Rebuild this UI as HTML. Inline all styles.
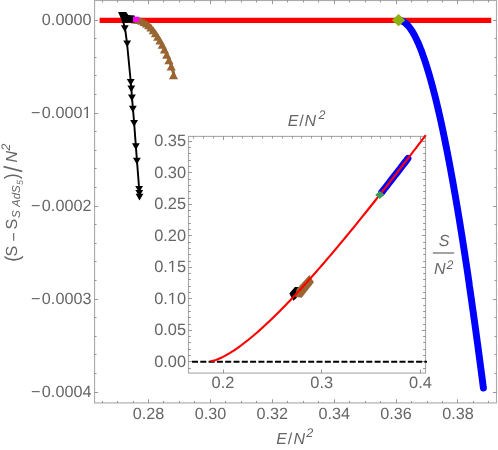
<!DOCTYPE html><html><head><meta charset="utf-8"><title>plot</title>
<style>html,body{margin:0;padding:0;background:#fff}svg{display:block;will-change:transform}text{font-family:"Liberation Sans",sans-serif;fill:#666666;text-rendering:geometricPrecision}</style>
</head><body>
<svg width="498" height="450" viewBox="0 0 498 450">
<rect width="498" height="450" fill="#fff"/>
<rect x="94.55" y="0.50" width="401.95" height="402.40" stroke="#ababab" stroke-width="1.15" fill="none"/>
<g stroke="#777777" stroke-width="0.75" fill="none">
<path d="M102.50 402.90v-2.00M102.50 0.50v2.00"/>
<path d="M117.50 402.90v-2.00M117.50 0.50v2.00"/>
<path d="M133.50 402.90v-2.00M133.50 0.50v2.00"/>
<path d="M148.50 402.90v-3.60M148.50 0.50v3.60"/>
<path d="M163.50 402.90v-2.00M163.50 0.50v2.00"/>
<path d="M179.50 402.90v-2.00M179.50 0.50v2.00"/>
<path d="M194.50 402.90v-2.00M194.50 0.50v2.00"/>
<path d="M210.50 402.90v-3.60M210.50 0.50v3.60"/>
<path d="M225.50 402.90v-2.00M225.50 0.50v2.00"/>
<path d="M241.50 402.90v-2.00M241.50 0.50v2.00"/>
<path d="M256.50 402.90v-2.00M256.50 0.50v2.00"/>
<path d="M272.50 402.90v-3.60M272.50 0.50v3.60"/>
<path d="M287.50 402.90v-2.00M287.50 0.50v2.00"/>
<path d="M303.50 402.90v-2.00M303.50 0.50v2.00"/>
<path d="M318.50 402.90v-2.00M318.50 0.50v2.00"/>
<path d="M334.50 402.90v-3.60M334.50 0.50v3.60"/>
<path d="M349.50 402.90v-2.00M349.50 0.50v2.00"/>
<path d="M365.50 402.90v-2.00M365.50 0.50v2.00"/>
<path d="M380.50 402.90v-2.00M380.50 0.50v2.00"/>
<path d="M396.50 402.90v-3.60M396.50 0.50v3.60"/>
<path d="M411.50 402.90v-2.00M411.50 0.50v2.00"/>
<path d="M427.50 402.90v-2.00M427.50 0.50v2.00"/>
<path d="M442.50 402.90v-2.00M442.50 0.50v2.00"/>
<path d="M457.50 402.90v-3.60M457.50 0.50v3.60"/>
<path d="M473.50 402.90v-2.00M473.50 0.50v2.00"/>
<path d="M488.50 402.90v-2.00M488.50 0.50v2.00"/>
<path d="M94.55 20.50h3.60M496.50 20.50h-3.60"/>
<path d="M94.55 38.50h2.00M496.50 38.50h-2.00"/>
<path d="M94.55 57.50h2.00M496.50 57.50h-2.00"/>
<path d="M94.55 75.50h2.00M496.50 75.50h-2.00"/>
<path d="M94.55 94.50h2.00M496.50 94.50h-2.00"/>
<path d="M94.55 113.50h3.60M496.50 113.50h-3.60"/>
<path d="M94.55 131.50h2.00M496.50 131.50h-2.00"/>
<path d="M94.55 150.50h2.00M496.50 150.50h-2.00"/>
<path d="M94.55 168.50h2.00M496.50 168.50h-2.00"/>
<path d="M94.55 187.50h2.00M496.50 187.50h-2.00"/>
<path d="M94.55 206.50h3.60M496.50 206.50h-3.60"/>
<path d="M94.55 224.50h2.00M496.50 224.50h-2.00"/>
<path d="M94.55 243.50h2.00M496.50 243.50h-2.00"/>
<path d="M94.55 261.50h2.00M496.50 261.50h-2.00"/>
<path d="M94.55 280.50h2.00M496.50 280.50h-2.00"/>
<path d="M94.55 299.50h3.60M496.50 299.50h-3.60"/>
<path d="M94.55 317.50h2.00M496.50 317.50h-2.00"/>
<path d="M94.55 336.50h2.00M496.50 336.50h-2.00"/>
<path d="M94.55 354.50h2.00M496.50 354.50h-2.00"/>
<path d="M94.55 373.50h2.00M496.50 373.50h-2.00"/>
<path d="M94.55 392.50h3.60M496.50 392.50h-3.60"/>
</g>
<g font-size="16.2">
<text x="148.50" y="419" text-anchor="middle">0.28</text>
<text x="210.40" y="419" text-anchor="middle">0.30</text>
<text x="272.30" y="419" text-anchor="middle">0.32</text>
<text x="334.20" y="419" text-anchor="middle">0.34</text>
<text x="396.10" y="419" text-anchor="middle">0.36</text>
<text x="458.00" y="419" text-anchor="middle">0.38</text>
<text x="91.6" y="25.00" text-anchor="end" letter-spacing="0.05">0.0000</text>
<text x="91.6" y="117.95" text-anchor="end" letter-spacing="0.05">0.0001</text>
<text x="31" y="117.95">−</text>
<text x="91.6" y="210.90" text-anchor="end" letter-spacing="0.05">0.0002</text>
<text x="31" y="210.90">−</text>
<text x="91.6" y="303.85" text-anchor="end" letter-spacing="0.05">0.0003</text>
<text x="31" y="303.85">−</text>
<text x="91.6" y="396.80" text-anchor="end" letter-spacing="0.05">0.0004</text>
<text x="31" y="396.80">−</text>
</g>
<path d="M99.6 20.3H491.3" stroke="#ff0000" stroke-width="5.2" fill="none"/>
<path d="M398.6 20.3 L399.1 20.3 L399.6 20.4 L400.1 20.4 L400.6 20.5 L401.1 20.7 L401.6 20.9 L402.1 21.0 L402.6 21.3 L403.1 21.5 L403.6 21.8 L404.1 22.1 L404.6 22.5 L405.1 22.9 L405.6 23.3 L406.1 23.7 L406.6 24.2 L407.1 24.7 L407.6 25.2 L408.1 25.7 L408.6 26.3 L409.1 26.9 L409.6 27.6 L410.1 28.2 L410.6 28.9 L411.1 29.7 L411.6 30.4 L412.1 31.2 L412.6 32.0 L413.1 32.9 L413.6 33.7 L414.1 34.6 L414.6 35.5 L415.1 36.5 L415.6 37.5 L416.1 38.5 L416.6 39.5 L417.1 40.6 L417.6 41.7 L418.1 42.8 L418.6 43.9 L419.1 45.1 L419.6 46.3 L420.1 47.5 L420.6 48.8 L421.1 50.0 L421.6 51.3 L422.1 52.7 L422.5 54.0 L423.0 55.4 L423.5 56.8 L424.0 58.2 L424.5 59.7 L425.0 61.2 L425.5 62.7 L426.0 64.2 L426.5 65.8 L427.0 67.4 L427.5 69.0 L428.0 70.6 L428.5 72.3 L429.0 74.0 L429.5 75.7 L430.0 77.4 L430.5 79.2 L431.0 81.0 L431.5 82.8 L432.0 84.7 L432.5 86.5 L433.0 88.4 L433.5 90.3 L434.0 92.3 L434.5 94.2 L435.0 96.2 L435.5 98.2 L436.0 100.2 L436.5 102.3 L437.0 104.4 L437.5 106.5 L438.0 108.6 L438.5 110.7 L439.0 112.9 L439.5 115.1 L440.0 117.3 L440.5 119.6 L441.0 121.8 L441.5 124.1 L442.0 126.4 L442.5 128.8 L443.0 131.1 L443.5 133.5 L444.0 135.9 L444.5 138.3 L445.0 140.8 L445.5 143.2 L446.0 145.7 L446.5 148.2 L447.0 150.8 L447.5 153.3 L448.0 155.9 L448.5 158.5 L449.0 161.1 L449.5 163.8 L450.0 166.4 L450.5 169.1 L451.0 171.8 L451.5 174.5 L452.0 177.3 L452.5 180.0 L453.0 182.8 L453.5 185.6 L454.0 188.5 L454.5 191.3 L455.0 194.2 L455.5 197.1 L456.0 200.0 L456.5 202.9 L457.0 205.8 L457.5 208.8 L458.0 211.8 L458.5 214.8 L459.0 217.8 L459.5 220.9 L460.0 223.9 L460.5 227.0 L461.0 230.1 L461.5 233.2 L462.0 236.4 L462.5 239.5 L463.0 242.7 L463.5 245.9 L464.0 249.1 L464.5 252.4 L465.0 255.6 L465.5 258.9 L466.0 262.2 L466.5 265.5 L467.0 268.8 L467.5 272.2 L468.0 275.5 L468.5 278.9 L469.0 282.3 L469.4 285.7 L469.9 289.1 L470.4 292.6 L470.9 296.1 L471.4 299.5 L471.9 303.0 L472.4 306.6 L472.9 310.1 L473.4 313.6 L473.9 317.2 L474.4 320.8 L474.9 324.4 L475.4 328.0 L475.9 331.6 L476.4 335.3 L476.9 339.0 L477.4 342.6 L477.9 346.3 L478.4 350.0 L478.9 353.8 L479.4 357.5 L479.9 361.3 L480.4 365.1 L480.9 368.8 L481.4 372.7 L481.9 376.5 L482.4 380.3 L482.9 384.2 L483.4 388.0" stroke="#0000ff" stroke-width="6.9" fill="none" stroke-linecap="round" stroke-linejoin="round"/>
<path d="M168.90 79.20L178.10 79.20L173.50 71.20ZM166.60 70.45L175.80 70.45L171.20 62.45ZM164.35 64.37L173.55 64.37L168.95 56.37ZM162.10 58.74L171.30 58.74L166.70 50.74ZM159.85 53.57L169.05 53.57L164.45 45.57ZM157.60 48.85L166.80 48.85L162.20 40.85ZM155.35 44.55L164.55 44.55L159.95 36.55ZM153.10 40.68L162.30 40.68L157.70 32.68ZM150.85 37.24L160.05 37.24L155.45 29.24ZM148.60 34.20L157.80 34.20L153.20 26.20ZM146.35 31.56L155.55 31.56L150.95 23.56ZM144.10 29.31L153.30 29.31L148.70 21.31ZM141.85 27.45L151.05 27.45L146.45 19.45ZM139.60 25.96L148.80 25.96L144.20 18.66ZM137.35 24.85L146.55 24.85L141.95 17.55ZM135.10 24.09L144.30 24.09L139.70 16.79ZM132.85 23.68L142.05 23.68L137.45 17.08ZM130.60 23.60L139.80 23.60L135.20 17.00Z" fill="#996633"/>
<path d="M174.2 75.9 L171.9 67.1 L169.7 61.1 L167.4 55.4 L165.2 50.3 L162.9 45.5 L160.7 41.3 L158.4 37.4 L156.2 33.9 L153.9 30.9 L151.7 28.3 L149.4 26.0 L147.2 24.1 L144.9 22.7 L142.7 21.5 L140.4 20.8 L138.2 20.4 L135.9 20.3" stroke="#996633" stroke-width="3.2" fill="none" stroke-linejoin="round"/>
<path d="M122.6 20.0 L125.0 28.0 L127.0 43.0 L130.7 81.2 L131.3 87.8 L131.9 96.8 L132.9 108.0 L134.1 122.3 L135.8 145.4 L136.9 159.9 L139.1 188.2 L139.3 192.0 L139.5 196.0" stroke="#000" stroke-width="1.9" fill="none" stroke-linejoin="round"/>
<path d="M120.90 25.20L128.70 25.20L124.80 31.90ZM123.25 40.60L131.05 40.60L127.15 47.30ZM126.80 79.00L134.60 79.00L130.70 85.70ZM127.40 85.60L135.20 85.60L131.30 92.30ZM128.00 94.60L135.80 94.60L131.90 101.30ZM128.95 105.80L136.75 105.80L132.85 112.50ZM130.20 120.10L138.00 120.10L134.10 126.80ZM131.95 143.20L139.75 143.20L135.85 149.90ZM132.95 157.70L140.75 157.70L136.85 164.40ZM135.20 186.00L143.00 186.00L139.10 192.70ZM135.40 189.90L143.20 189.90L139.30 196.60ZM135.60 193.70L143.40 193.70L139.50 200.40Z" fill="#000"/>
<path d="M118.1 12.1L126.2 12.1L128.3 15L134.8 15.4L134.8 22.6L122.8 23Z" fill="#000"/>
<rect x="133" y="16.7" width="5.9" height="5.3" fill="#ff00ff"/>
<path d="M391.9 20.3L398.55 13.9L405.25 20.3L398.55 26.35Z" fill="#8cb110"/>
<rect x="188.50" y="136.40" width="237.00" height="236.70" fill="#fff"/>
<rect x="188.50" y="136.40" width="237.00" height="236.70" stroke="#ababab" stroke-width="1.15" fill="none"/>
<g stroke="#777777" stroke-width="0.75" fill="none">
<path d="M193.50 136.40v2.20"/>
<path d="M203.50 136.40v2.20"/>
<path d="M213.50 136.40v2.20"/>
<path d="M223.50 136.40v3.60"/>
<path d="M223.50 373.10v-3.60"/>
<path d="M232.50 136.40v2.20"/>
<path d="M242.50 136.40v2.20"/>
<path d="M252.50 136.40v2.20"/>
<path d="M262.50 136.40v2.20"/>
<path d="M272.50 136.40v2.20"/>
<path d="M282.50 136.40v2.20"/>
<path d="M292.50 136.40v2.20"/>
<path d="M301.50 136.40v2.20"/>
<path d="M311.50 136.40v2.20"/>
<path d="M321.50 136.40v3.60"/>
<path d="M321.50 373.10v-3.60"/>
<path d="M331.50 136.40v2.20"/>
<path d="M341.50 136.40v2.20"/>
<path d="M351.50 136.40v2.20"/>
<path d="M361.50 136.40v2.20"/>
<path d="M371.50 136.40v2.20"/>
<path d="M380.50 136.40v2.20"/>
<path d="M390.50 136.40v2.20"/>
<path d="M400.50 136.40v2.20"/>
<path d="M410.50 136.40v2.20"/>
<path d="M420.50 136.40v3.60"/>
<path d="M420.50 373.10v-3.60"/>
<path d="M188.50 368.50h2.40M425.50 368.50h-2.40"/>
<path d="M188.50 361.50h3.60M425.50 361.50h-3.60"/>
<path d="M188.50 355.50h2.40M425.50 355.50h-2.40"/>
<path d="M188.50 349.50h2.40M425.50 349.50h-2.40"/>
<path d="M188.50 342.50h2.40M425.50 342.50h-2.40"/>
<path d="M188.50 336.50h2.40M425.50 336.50h-2.40"/>
<path d="M188.50 330.50h3.60M425.50 330.50h-3.60"/>
<path d="M188.50 324.50h2.40M425.50 324.50h-2.40"/>
<path d="M188.50 317.50h2.40M425.50 317.50h-2.40"/>
<path d="M188.50 311.50h2.40M425.50 311.50h-2.40"/>
<path d="M188.50 305.50h2.40M425.50 305.50h-2.40"/>
<path d="M188.50 298.50h3.60M425.50 298.50h-3.60"/>
<path d="M188.50 292.50h2.40M425.50 292.50h-2.40"/>
<path d="M188.50 286.50h2.40M425.50 286.50h-2.40"/>
<path d="M188.50 279.50h2.40M425.50 279.50h-2.40"/>
<path d="M188.50 273.50h2.40M425.50 273.50h-2.40"/>
<path d="M188.50 267.50h3.60M425.50 267.50h-3.60"/>
<path d="M188.50 261.50h2.40M425.50 261.50h-2.40"/>
<path d="M188.50 254.50h2.40M425.50 254.50h-2.40"/>
<path d="M188.50 248.50h2.40M425.50 248.50h-2.40"/>
<path d="M188.50 242.50h2.40M425.50 242.50h-2.40"/>
<path d="M188.50 235.50h3.60M425.50 235.50h-3.60"/>
<path d="M188.50 229.50h2.40M425.50 229.50h-2.40"/>
<path d="M188.50 223.50h2.40M425.50 223.50h-2.40"/>
<path d="M188.50 216.50h2.40M425.50 216.50h-2.40"/>
<path d="M188.50 210.50h2.40M425.50 210.50h-2.40"/>
<path d="M188.50 204.50h3.60M425.50 204.50h-3.60"/>
<path d="M188.50 198.50h2.40M425.50 198.50h-2.40"/>
<path d="M188.50 191.50h2.40M425.50 191.50h-2.40"/>
<path d="M188.50 185.50h2.40M425.50 185.50h-2.40"/>
<path d="M188.50 179.50h2.40M425.50 179.50h-2.40"/>
<path d="M188.50 172.50h3.60M425.50 172.50h-3.60"/>
<path d="M188.50 166.50h2.40M425.50 166.50h-2.40"/>
<path d="M188.50 160.50h2.40M425.50 160.50h-2.40"/>
<path d="M188.50 153.50h2.40M425.50 153.50h-2.40"/>
<path d="M188.50 147.50h2.40M425.50 147.50h-2.40"/>
<path d="M188.50 141.50h3.60M425.50 141.50h-3.60"/>
</g>
<g font-size="16.4">
<text x="223.00" y="388.4" text-anchor="middle">0.2</text>
<text x="321.73" y="388.4" text-anchor="middle">0.3</text>
<text x="420.46" y="388.4" text-anchor="middle">0.4</text>
<text x="186.1" y="366.90" text-anchor="end">0.00</text>
<text x="186.1" y="335.40" text-anchor="end">0.05</text>
<text x="186.1" y="303.90" text-anchor="end">0.10</text>
<text x="186.1" y="272.40" text-anchor="end">0.15</text>
<text x="186.1" y="240.90" text-anchor="end">0.20</text>
<text x="186.1" y="209.40" text-anchor="end">0.25</text>
<text x="186.1" y="177.90" text-anchor="end">0.30</text>
<text x="186.1" y="146.40" text-anchor="end">0.35</text>
</g>
<path d="M82.30 115.60H86.25V118.50H82.30ZM88.00 115.60H91.90V118.50H88.00Z" fill="#fff"/>
<path d="M168.60 301.60H171.90V304.30H168.60ZM173.25 301.60H176.40V304.30H173.25Z" fill="#fff"/>
<path d="M168.60 269.60H171.90V272.30H168.60ZM173.25 269.60H176.40V272.30H173.25Z" fill="#fff"/>
<path d="M192 361.8H427" stroke="#000" stroke-width="1.9" stroke-dasharray="6 2.3" fill="none"/>
<path d="M381.6 192.5 L384.2 189.2 L386.8 185.8 L389.5 182.4 L392.1 179.0 L394.7 175.6 L397.4 172.2 L400.0 168.8 L402.6 165.4 L405.3 162.0 L407.9 158.5" stroke="#0000ff" stroke-width="7" fill="none" stroke-linecap="round"/>
<path d="M289.3 293.4L294.9 287.1L298.5 287.1L300 292L296.5 298L293.4 300.8Z" fill="#000"/>
<path d="M309.4 275L313.9 282.2L301.7 297.8L295 296.7L296.7 288.9Z" fill="#996633"/>
<path d="M210.46 361.10 L212.25 360.86 L214.05 360.44 L215.84 359.89 L217.63 359.24 L219.43 358.51 L221.22 357.71 L223.01 356.84 L224.81 355.91 L226.60 354.93 L228.39 353.90 L230.19 352.82 L231.98 351.69 L233.78 350.53 L235.57 349.33 L237.36 348.08 L239.16 346.81 L240.95 345.50 L242.74 344.16 L244.54 342.78 L246.33 341.38 L248.12 339.95 L249.92 338.49 L251.71 337.01 L253.51 335.50 L255.30 333.97 L257.09 332.42 L258.89 330.84 L260.68 329.24 L262.47 327.62 L264.27 325.98 L266.06 324.31 L267.85 322.63 L269.65 320.94 L271.44 319.22 L273.23 317.49 L275.03 315.74 L276.82 313.97 L278.62 312.19 L280.41 310.39 L282.20 308.57 L284.00 306.75 L285.79 304.90 L287.58 303.05 L289.38 301.18 L291.17 299.29 L292.96 297.40 L294.76 295.49 L296.55 293.57 L298.34 291.63 L300.14 289.69 L301.93 287.73 L303.73 285.77 L305.52 283.79 L307.31 281.80 L309.11 279.80 L310.90 277.79 L312.69 275.77 L314.49 273.75 L316.28 271.71 L318.07 269.66 L319.87 267.60 L321.66 265.54 L323.46 263.46 L325.25 261.38 L327.04 259.29 L328.84 257.19 L330.63 255.08 L332.42 252.97 L334.22 250.85 L336.01 248.72 L337.80 246.58 L339.60 244.44 L341.39 242.28 L343.18 240.13 L344.98 237.96 L346.77 235.79 L348.57 233.61 L350.36 231.43 L352.15 229.24 L353.95 227.04 L355.74 224.83 L357.53 222.63 L359.33 220.41 L361.12 218.19 L362.91 215.96 L364.71 213.73 L366.50 211.50 L368.30 209.25 L370.09 207.01 L371.88 204.75 L373.68 202.50 L375.47 200.23 L377.26 197.97 L379.06 195.69 L380.85 193.42 L382.64 191.14 L384.44 188.85 L386.23 186.56 L388.02 184.26 L389.82 181.97 L391.61 179.66 L393.41 177.36 L395.20 175.04 L396.99 172.73 L398.79 170.41 L400.58 168.09 L402.37 165.76 L404.17 163.43 L405.96 161.10 L407.75 158.76 L409.55 156.42 L411.34 154.07 L413.13 151.72 L414.93 149.37 L416.72 147.02 L418.52 144.66 L420.31 142.30 L422.10 139.93 L423.90 137.57 L425.69 135.20" stroke="#ff0000" stroke-width="2.1" fill="none" stroke-linejoin="round"/>
<path d="M375.2 194.9L379.5 190.9L384.4 194.6L379.8 199.1Z" fill="#3e9a5c"/>
<text x="276.30" y="443.80" font-size="16" font-style="italic">E</text>
<text x="287.7" y="443.8" font-size="16">/</text>
<text x="293.40" y="443.80" font-size="16" font-style="italic">N</text>
<text x="306.30" y="437.20" font-size="12.6" font-style="italic">2</text>
<text x="287.80" y="126.20" font-size="16" font-style="italic">E</text>
<text x="299.3" y="126.2" font-size="16">/</text>
<text x="304.60" y="126.20" font-size="16" font-style="italic">N</text>
<text x="318.50" y="119.30" font-size="12.4" font-style="italic">2</text>
<text x="438.80" y="245.70" font-size="16" font-style="italic">S</text>
<path d="M432.8 253.0H454.2" stroke="#666666" stroke-width="1.2"/>
<text x="434.00" y="274.40" font-size="16" font-style="italic">N</text>
<text x="446.50" y="269.00" font-size="12.4" font-style="italic">2</text>
<g transform="translate(17.1,262.6) rotate(-90)">
<text x="0" y="1.4" font-size="20" transform="translate(0.8,0) scale(0.9,1)">(</text>
<text x="6.2" y="0" font-size="16">S</text>
<text x="21.2" y="1.5" font-size="16">−</text>
<text x="33.1" y="0" font-size="16">S</text>
<text x="44.60" y="2.60" font-size="11.5" font-style="italic">S</text>
<text x="55.60" y="2.60" font-size="11.5" font-style="italic">AdS</text>
<text x="77.60" y="5.60" font-size="9" font-style="italic">5</text>
<text x="0" y="1.2" font-size="19.5" transform="translate(83.6,0) scale(0.85,1)">)</text>
<text x="0" y="4.6" font-size="25.5" transform="translate(90.4,0) scale(0.92,1)">/</text>
<text x="100.00" y="0.00" font-size="16" font-style="italic">N</text>
<text x="112.20" y="-7.00" font-size="12.3" font-style="italic">2</text>
</g>
</svg></body></html>
